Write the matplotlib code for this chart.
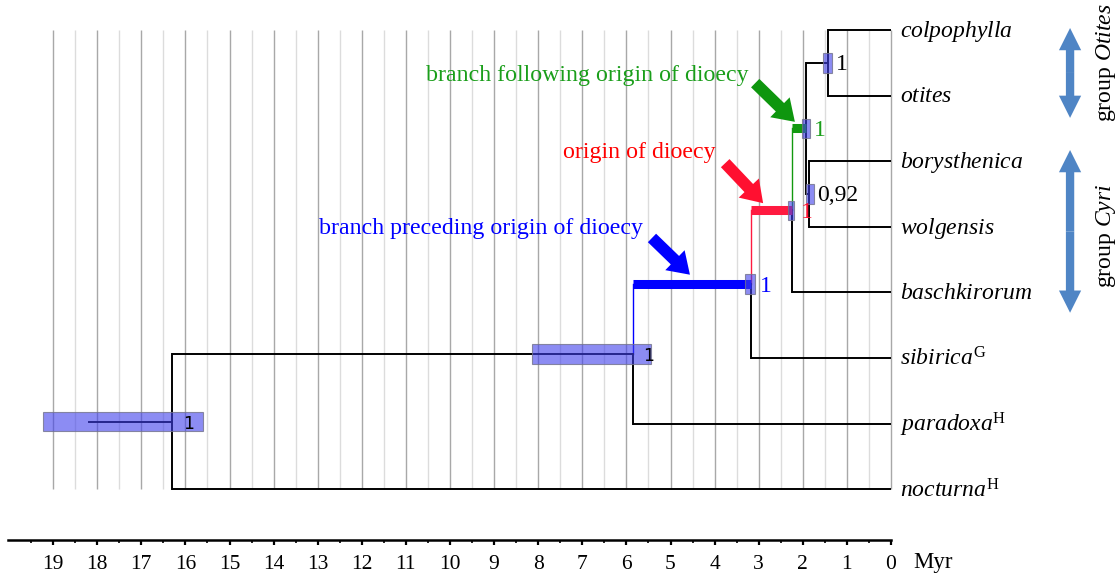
import numpy as np
import matplotlib
matplotlib.use("Agg")
import matplotlib.pyplot as plt

plt.rcParams['font.family'] = ['Liberation Serif', 'DejaVu Serif']
plt.rcParams['mathtext.fontset'] = 'custom'
plt.rcParams['mathtext.rm'] = 'Liberation Serif'
plt.rcParams['mathtext.it'] = 'Liberation Serif:italic'

# ---------------- data ----------------
taxa = ["colpophylla", "otites", "borysthenica", "wolgensis",
        "baschkirorum", "sibirica", "paradoxa", "nocturna"]
taxon_sup = ["", "", "", "", "", "G", "H", "H"]

node_names = ["n1", "n2", "n3", "n4", "n5", "n6", "n7"]
node_children = [("colpophylla", "otites"), ("borysthenica", "wolgensis"),
                 ("n1", "n2"), ("n3", "baschkirorum"), ("n4", "sibirica"),
                 ("n5", "paradoxa"), ("n6", "nocturna")]
node_age = [1.43, 1.86, 1.93, 2.24, 3.17, 5.85, 16.3]          # Myr
hpd_low = [1.34, 1.75, 1.84, 2.20, 3.08, 5.44, 15.60]
hpd_high = [1.54, 1.93, 2.02, 2.34, 3.31, 8.14, 19.23]
support = ["1", "0,92", "1", "1", "1", "1", "1"]
support_color = ["black", "black", "#1a9e1a", "#ff1030", "#0000ff", "black", "black"]
support_sans = [False, False, False, False, False, True, True]
root_stem_age = 18.19

# coloured branches (child node -> colour)
branch_color = {"n5": "#0000ff", "n4": "#ff1a40", "n3": "#12990f"}

ticks_major = list(range(0, 20))
annot_texts = ["branch following origin of dioecy", "origin of dioecy",
               "branch preceding origin of dioecy"]
annot_colors = ["#1a9e1a", "#ff0000", "#0000ff"]
arrow_colors = ["#0e960e", "#ff1030", "#0000ff"]

# ---------------- figure ----------------
fig = plt.figure(figsize=(11.18, 5.77), dpi=100)
ax = fig.add_axes([0, 0, 1, 1])
ax.set_xlim(20.204, -5.147)
ax.set_ylim(8.338, -0.457)

# grid lines
for g in np.arange(0, 19.01, 0.5):
    col = "#a8a8a8" if abs(g - round(g)) < 1e-6 else "#dcdcdc"
    ax.vlines(g, 0, 7.0, colors=col, lw=1.0, zorder=0)

# layout
ypos = {t: i for i, t in enumerate(taxa)}
age = {t: 0.0 for t in taxa}
for name, ch, a in zip(node_names, node_children, node_age):
    ypos[name] = np.mean([ypos[c] for c in ch])
    age[name] = a

# branches
for name, ch in zip(node_names, node_children):
    a = age[name]
    yn = ypos[name]
    for c in ch:
        yc = ypos[c]
        if c in branch_color:
            col = branch_color[c]
            ax.plot([a, a], [yn, yc], color=col, lw=1.0, zorder=2)
            ax.plot([a, age[c]], [yc, yc], color=col, lw=6.5,
                    solid_capstyle='butt', zorder=2)
        else:
            ax.plot([a, a], [yn, yc], color="black", lw=1.4, zorder=2,
                    solid_capstyle='projecting')
            ax.plot([a, age[c]], [yc, yc], color="black", lw=1.4, zorder=2,
                    solid_capstyle='butt')

# root stem
ax.plot([root_stem_age, node_age[-1]], [ypos["n7"]] * 2, color="black",
        lw=1.4, zorder=2)

# HPD boxes
ys = [ypos[n] for n in node_names]
ax.barh(ys, np.array(hpd_high) - np.array(hpd_low), left=hpd_low,
        height=0.30, color=(0.25, 0.25, 0.92, 0.6),
        edgecolor=(0.45, 0.45, 0.55, 0.8), lw=0.8, zorder=3)

# support labels
for a, y, s, c, sans in zip(node_age, ys, support, support_color, support_sans):
    if sans:
        ax.text(a - 0.24, y + 0.03, s, color=c, fontsize=12.5,
                family='DejaVu Sans', ha='left', va='center', zorder=4)
    else:
        ax.text(a - 0.19, y + 0.03, s, color=c, fontsize=17,
                ha='left', va='center', zorder=4)

# tip labels
for t, s in zip(taxa, taxon_sup):
    lab = r"$\mathit{%s}$" % t
    if s:
        lab = r"$\mathit{%s}^{\mathrm{%s}}$" % (t, s)
    ax.text(-0.2, ypos[t] + 0.02, lab, fontsize=17, ha='left', va='center')

# annotation texts and arrows
annot_pos = [(3.24, 0.69), (3.97, 1.875), (5.62, 3.02)]
arrow_xy = [((3.08, 0.81), (2.18, 1.40)),
            ((3.76, 2.03), (2.90, 2.64)),
            ((5.42, 3.17), (4.56, 3.73))]
for txt, col, (tx, ty), acol, (tail, tip) in zip(annot_texts, annot_colors,
                                                 annot_pos, arrow_colors, arrow_xy):
    ax.text(tx, ty, txt, color=col, fontsize=17.2, ha='right', va='center')
    ax.annotate("", xy=tip, xytext=tail,
                arrowprops=dict(arrowstyle="simple,head_length=1.5,head_width=2.0,tail_width=0.85",
                                mutation_scale=10, color=acol, lw=0,
                                shrinkA=0, shrinkB=0), zorder=5)

# group arrows
grp_col = "#4f85c5"
for (y0, y1) in [(-0.03, 1.34), (1.83, 4.31)]:
    ym = (y0 + y1) / 2
    for yend in (y0, y1):
        ax.annotate("", xy=(-4.06, yend), xytext=(-4.06, ym),
                    arrowprops=dict(arrowstyle="simple,head_length=1.6,head_width=1.6,tail_width=0.6",
                                    mutation_scale=10, color=grp_col, lw=0,
                                    shrinkA=0, shrinkB=0))
ax.text(-4.87, 0.50, r"group $\mathit{Otites}$", rotation=90, fontsize=17,
        ha='center', va='center')
ax.text(-4.87, 3.14, r"group $\mathit{Cyri}$", rotation=90, fontsize=17,
        ha='center', va='center')

# time axis
for sp in ["top", "left", "right"]:
    ax.spines[sp].set_visible(False)
ax.spines["bottom"].set_position(("data", 7.774))
ax.spines["bottom"].set_bounds(0, 20.02)
ax.spines["bottom"].set_linewidth(1.8)
ax.set_xticks(ticks_major)
ax.set_xticklabels([str(t) for t in ticks_major], fontsize=15.5)
ax.set_xticks(np.arange(0.5, 19.6, 1.0), minor=True)
ax.tick_params(axis='x', which='major', direction='out', length=3.5, width=1.6, pad=7)
ax.tick_params(axis='x', which='minor', direction='out', length=2.2, width=1.2)
ax.set_yticks([])
ax.text(-0.5, 8.12, "Myr", fontsize=16.5, ha='left', va='center')

fig.savefig("out.png", dpi=100)
